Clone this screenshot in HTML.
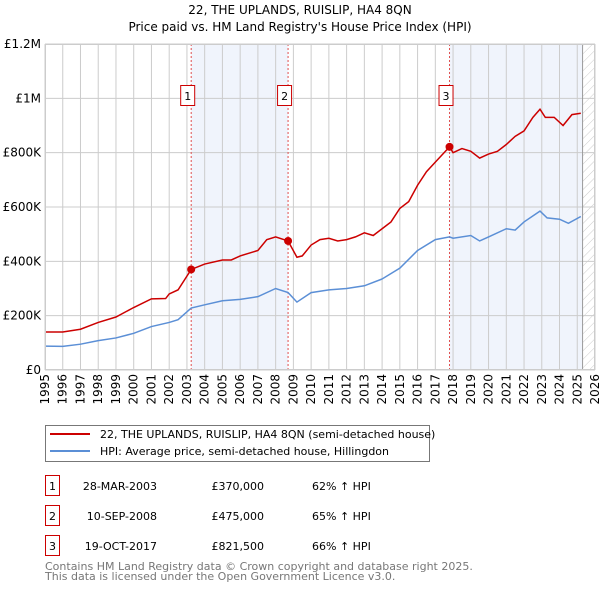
<!DOCTYPE html>
<html><head><meta charset="utf-8"><style>
body{margin:0;background:#fff;}
svg{display:block;font-family:"DejaVu Sans","Liberation Sans",sans-serif;}
</style></head><body>
<svg id="chart" width="600" height="590">
<text x="300" y="14" text-anchor="middle" font-size="12">22, THE UPLANDS, RUISLIP, HA4 8QN</text>
<text x="300" y="31" text-anchor="middle" font-size="12">Price paid vs. HM Land Registry's House Price Index (HPI)</text>
<defs><pattern id="hatch" width="6" height="6" patternUnits="userSpaceOnUse" patternTransform="rotate(45)"><line x1="0" y1="0" x2="0" y2="6" stroke="#ccc" stroke-width="1"/></pattern></defs>
<g id="plot"></g>
<g>
<rect x="45.5" y="425.5" width="384" height="36" fill="#fff" stroke="#777"/>
<line x1="50" y1="434" x2="90" y2="434" stroke="#cc0000" stroke-width="2"/>
<text x="100" y="438" font-size="11">22, THE UPLANDS, RUISLIP, HA4 8QN (semi-detached house)</text>
<line x1="50" y1="451" x2="90" y2="451" stroke="#5b8fd6" stroke-width="2"/>
<text x="100" y="455" font-size="11">HPI: Average price, semi-detached house, Hillingdon</text>
</g>
<g font-size="11">
<rect x="45.5" y="475.5" width="14" height="20" fill="#fff" stroke="#cc0000"/><text x="52.5" y="490" text-anchor="middle">1</text>
<text x="157" y="490" text-anchor="end">28-MAR-2003</text><text x="264" y="490" text-anchor="end">£370,000</text><text x="312" y="490">62% ↑ HPI</text>
<rect x="45.5" y="505.5" width="14" height="20" fill="#fff" stroke="#cc0000"/><text x="52.5" y="520" text-anchor="middle">2</text>
<text x="157" y="520" text-anchor="end">10-SEP-2008</text><text x="264" y="520" text-anchor="end">£475,000</text><text x="312" y="520">65% ↑ HPI</text>
<rect x="45.5" y="535.5" width="14" height="20" fill="#fff" stroke="#cc0000"/><text x="52.5" y="550" text-anchor="middle">3</text>
<text x="157" y="550" text-anchor="end">19-OCT-2017</text><text x="264" y="550" text-anchor="end">£821,500</text><text x="312" y="550">66% ↑ HPI</text>
</g>
<text x="45" y="570" font-size="11" fill="#777">Contains HM Land Registry data © Crown copyright and database right 2025.</text>
<text x="45" y="580" font-size="11" fill="#777">This data is licensed under the Open Government Licence v3.0.</text>
</svg>
<script>
const yTicks=[0,200,400,600,800,1000,1200];
const yTickLabels=["£0","£200K","£400K","£600K","£800K","£1M","£1.2M"];
const years=[1995,1996,1997,1998,1999,2000,2001,2002,2003,2004,2005,2006,2007,2008,2009,2010,2011,2012,2013,2014,2015,2016,2017,2018,2019,2020,2021,2022,2023,2024,2025,2026];
const redT=[1995,1996,1997,1998,1999,2000,2001,2001.8,2002,2002.5,2003.24,2004,2005,2005.5,2006,2007,2007.5,2008,2008.7,2009.2,2009.5,2010,2010.5,2011,2011.5,2012,2012.5,2013,2013.5,2014,2014.5,2015,2015.5,2016,2016.5,2017,2017.8,2018,2018.5,2019,2019.5,2020,2020.5,2021,2021.5,2022,2022.5,2022.9,2023.2,2023.7,2024.2,2024.7,2025.2];
const redV=[140,140,150,175,195,230,262,263,280,295,370,390,405,405,420,440,480,490,475,415,420,460,480,485,475,480,490,505,495,520,545,595,620,680,730,765,821.5,800,815,805,780,795,805,830,860,880,930,960,930,930,900,940,945];
const blueT=[1995,1996,1997,1998,1999,2000,2001,2002,2002.5,2003.24,2004,2005,2006,2007,2008,2008.7,2009.2,2010,2011,2012,2013,2014,2015,2016,2017,2017.8,2018,2019,2019.5,2020,2021,2021.5,2022,2022.9,2023.3,2024,2024.5,2025.2];
const blueV=[88,87,95,108,118,135,160,175,185,228,240,255,260,270,300,285,250,285,295,300,310,335,375,440,480,490,485,495,475,490,520,515,545,585,560,555,540,565];
const saleT=[2003.24,2008.7,2017.8];
const saleV=[370,475,821.5];
const saleLabels=["1","2","3"];
const X0=45,X1=595,Y0=370,Y1=44;
const x=t=>X0+(t-1995)/(2026-1995)*(X1-X0);
const y=v=>Y0-v/1200*(Y0-Y1);
const NS="http://www.w3.org/2000/svg";
const g=document.getElementById('plot');
function mk(tag,attrs){const e=document.createElementNS(NS,tag);for(const k in attrs)e.setAttribute(k,attrs[k]);g.appendChild(e);return e;}
let e;
e=mk('rect',{x:x(saleT[0]),y:Y1,width:x(saleT[1])-x(saleT[0]),height:Y0-Y1,fill:'#f0f4fc'});


e=mk('rect',{x:x(saleT[2]),y:Y1,width:x(2025.3)-x(saleT[2]),height:Y0-Y1,fill:'#f0f4fc'});


e=mk('rect',{x:x(2025.3),y:Y1,width:X1-x(2025.3),height:Y0-Y1,fill:'url(#hatch)'});


yTicks.forEach((v,i)=>{
 e=mk('line',{x1:X0,x2:X1,y1:y(v),y2:y(v),stroke:'#ccc'});
 
 
 e=mk('text',{x:X0-4,y:y(v)+4,'text-anchor':'end','font-size':12});
 e.textContent=yTickLabels[i];
 
 
});
years.forEach(t=>{
 e=mk('line',{x1:x(t),x2:x(t),y1:Y1,y2:Y0,stroke:'#ccc'});
 
 
 e=mk('text',{x:0,y:0,'text-anchor':'end','font-size':12,transform:`translate(${x(t)+4},${Y0+4}) rotate(-90)`});
 e.textContent=t;
 
 
});
e=mk('line',{x1:x(2025.3),x2:x(2025.3),y1:Y1,y2:Y0,stroke:'#999'});


saleT.forEach((t,i)=>{
 e=mk('line',{x1:x(t),x2:x(t),y1:Y1,y2:Y0,stroke:'#e05050','stroke-dasharray':'2,2'});
 
 
 e=mk('rect',{x:x(t)-10.5,y:85.5,width:14,height:20,fill:'#fff',stroke:'#cc0000'});
 
 
 e=mk('text',{x:x(t)-3.5,y:100,'text-anchor':'middle','font-size':11});
 e.textContent=saleLabels[i];
 
 
});
e=mk('polyline',{points:blueT.map((t,i)=>x(t)+','+y(blueV[i])).join(' '),fill:'none',stroke:'#5b8fd6','stroke-width':1.5});


e=mk('polyline',{points:redT.map((t,i)=>x(t)+','+y(redV[i])).join(' '),fill:'none',stroke:'#cc0000','stroke-width':1.5});


saleT.forEach((t,i)=>{
 e=mk('circle',{cx:x(t),cy:y(saleV[i]),r:4,fill:'#cc0000'});
 
 
});
e=mk('rect',{x:X0+0.5,y:Y1+0.5,width:X1-X0-1,height:Y0-Y1-1,fill:'none',stroke:'#ccc'});


</script>
</body></html>
